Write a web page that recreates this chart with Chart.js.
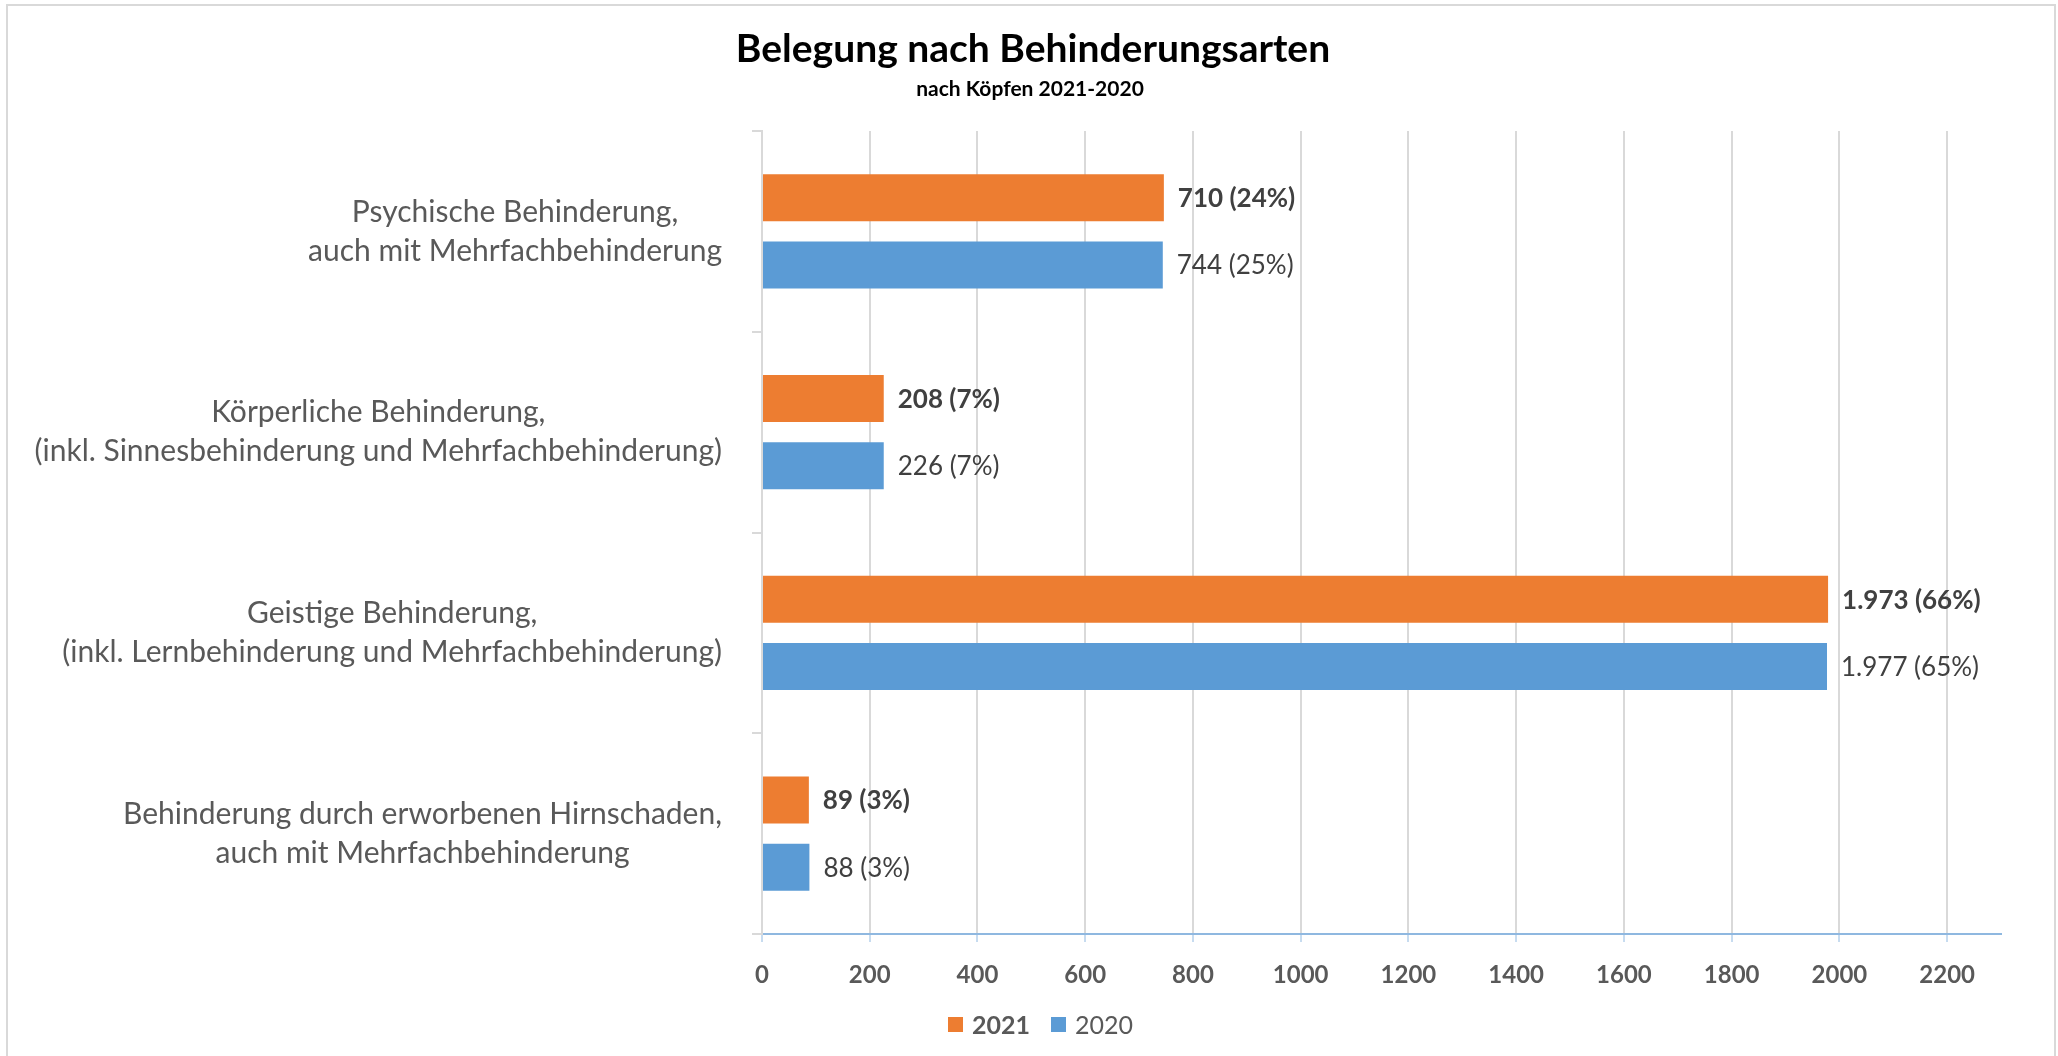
<!DOCTYPE html>
<html>
<head>
<meta charset="utf-8">
<script src="https://cdn.jsdelivr.net/npm/chart.js@4.4.1/dist/chart.umd.min.js"></script>
<style>
  body { margin: 0; background: #fff; }
  canvas { display: block; }
</style>
</head>
<body>
<canvas id="belegungChart" width="2058" height="1056"></canvas>
<script>
// categories (top to bottom), each one split into its two lines
const categories = [
  ['Psychische Behinderung,', 'auch mit Mehrfachbehinderung'],
  ['Körperliche Behinderung,', '(inkl. Sinnesbehinderung und Mehrfachbehinderung)'],
  ['Geistige Behinderung,', '(inkl. Lernbehinderung und Mehrfachbehinderung)'],
  ['Behinderung durch erworbenen Hirnschaden,', 'auch mit Mehrfachbehinderung']
];
const seriesNames = ['2021', '2020'];

// bar lengths as they are drawn in the picture
const bars2021 = [746, 226, 1979, 87];
const bars2020 = [744, 226, 1977, 88];

// numbers printed next to the bars
const counts2021 = [710, 208, 1973, 89];
const counts2020 = [744, 226, 1977, 88];

const xTicks = [0, 200, 400, 600, 800, 1000, 1200, 1400, 1600, 1800, 2000, 2200];

const orange = '#ED7D31';
const blue = '#5B9BD5';
const textGray = '#595959';
const FONT = 'Lato, "Open Sans", sans-serif';

function formatDe(n) {
  return String(n).replace(/\B(?=(\d{3})+(?!\d))/g, '.');
}

function percentOf(list, i) {
  const sum = list.reduce((a, b) => a + b, 0);
  return Math.round(list[i] / sum * 100);
}

const labelCounts = [counts2021, counts2020];

// white page, frame, titles, category labels, value labels, legend
const decorPlugin = {
  id: 'decor',
  beforeDraw(chart) {
    const ctx = chart.ctx;
    ctx.save();
    ctx.fillStyle = '#fff';
    ctx.fillRect(0, 0, chart.width, chart.height);
    ctx.strokeStyle = '#d9d9d9';
    ctx.lineWidth = 2;
    ctx.beginPath();
    ctx.moveTo(7, chart.height);
    ctx.lineTo(7, 5);
    ctx.lineTo(2055, 5);
    ctx.lineTo(2055, chart.height);
    ctx.stroke();
    ctx.restore();
  },
  afterDraw(chart) {
    const ctx = chart.ctx;
    ctx.save();

    // title
    ctx.fillStyle = '#000';
    ctx.textAlign = 'center';
    ctx.textBaseline = 'alphabetic';
    ctx.font = 'bold 39px ' + FONT;
    ctx.fillText('Belegung nach Behinderungsarten', 1033, 62);
    ctx.font = 'bold 21px ' + FONT;
    ctx.fillText('nach Köpfen 2021-2020', 1030, 96);

    // category labels: block right-aligned, lines centred within it
    const yScale = chart.scales.y;
    ctx.font = '30px ' + FONT;
    ctx.fillStyle = textGray;
    ctx.textBaseline = 'middle';
    const lineH = 39;
    categories.forEach((lines, i) => {
      const cy = yScale.getPixelForValue(i);
      const w = Math.max(...lines.map(l => ctx.measureText(l).width));
      const cx = chart.chartArea.left - 40 - w / 2;
      lines.forEach((l, k) => {
        const y = cy + (k - (lines.length - 1) / 2) * lineH;
        ctx.fillText(l, cx, y);
      });
    });

    // value labels
    ctx.textAlign = 'left';
    ctx.fillStyle = '#404040';
    chart.data.datasets.forEach((ds, di) => {
      const meta = chart.getDatasetMeta(di);
      ctx.font = (di === 0 ? 'bold ' : '') + '26px ' + FONT;
      meta.data.forEach((bar, i) => {
        const list = labelCounts[di];
        const txt = formatDe(list[i]) + ' (' + percentOf(list, i) + '%)';
        ctx.fillText(txt, bar.x + 14, bar.y + 1);
      });
    });

    // legend
    const items = [
      { text: seriesNames[0], color: orange, bold: true },
      { text: seriesNames[1], color: blue, bold: false }
    ];
    let x = 948;
    const ly = 1025;
    items.forEach(it => {
      ctx.fillStyle = it.color;
      ctx.fillRect(x, ly - 8, 15, 15);
      ctx.font = (it.bold ? 'bold ' : '') + '25px ' + FONT;
      ctx.fillStyle = textGray;
      ctx.fillText(it.text, x + 24, ly + 1);
      x += 24 + ctx.measureText(it.text).width + 21;
    });

    ctx.restore();
  }
};

const ctx = document.getElementById('belegungChart').getContext('2d');
new Chart(ctx, {
  type: 'bar',
  data: {
    labels: categories.map(c => c.join(' ')),
    datasets: [
      {
        label: seriesNames[0],
        data: bars2021,
        backgroundColor: orange,
        barPercentage: 0.7,
        categoryPercentage: 0.67
      },
      {
        label: seriesNames[1],
        data: bars2020,
        backgroundColor: blue,
        barPercentage: 0.7,
        categoryPercentage: 0.67
      }
    ]
  },
  options: {
    indexAxis: 'y',
    responsive: false,
    animation: false,
    devicePixelRatio: 1,
    layout: {
      padding: { left: 0, right: 57, top: 131, bottom: 52 }
    },
    plugins: {
      legend: { display: false },
      title: { display: false },
      tooltip: { enabled: false }
    },
    scales: {
      x: {
        min: 0,
        max: 2300,
        afterBuildTicks(scale) {
          scale.ticks = xTicks.map(v => ({ value: v }));
        },
        afterFit(scale) {
          scale.height = 70;
        },
        grid: {
          color: '#d9d9d9',
          lineWidth: 2,
          tickColor: '#8fb8e0',
          tickLength: 8,
          tickWidth: 1
        },
        border: { color: '#8fb8e0', width: 2 },
        ticks: {
          color: textGray,
          padding: 19,
          maxRotation: 0,
          callback: v => String(v),
          font: { family: FONT, size: 24, weight: 'bold' }
        }
      },
      y: {
        offset: true,
        afterFit(scale) {
          scale.width = 762;
        },
        grid: {
          offset: true,
          drawOnChartArea: false,
          color: '#d9d9d9',
          tickLength: 10,
          lineWidth: 2
        },
        border: { color: '#d9d9d9', width: 2 },
        ticks: { display: false }
      }
    }
  },
  plugins: [decorPlugin]
});
</script>
</body>
</html>
